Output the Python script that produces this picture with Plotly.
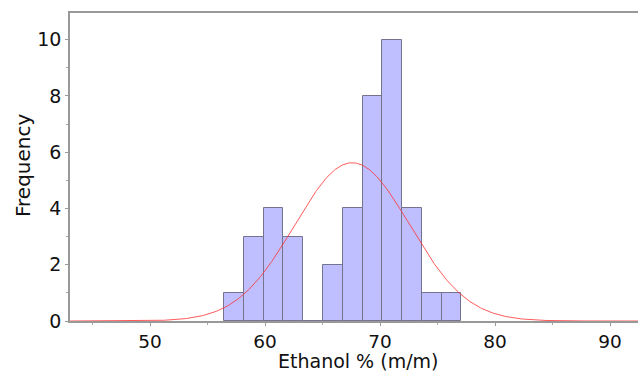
import numpy as np
import plotly.graph_objects as go

# Histogram data
bin_edges = [56.44, 58.16, 59.88, 61.60, 63.32, 65.04, 66.76, 68.48,
             70.20, 71.92, 73.64, 75.36, 77.08]
counts = [1, 3, 4, 3, 0, 2, 4, 8, 10, 4, 1, 1]

# Fitted normal curve parameters
fit_mean = 67.58
fit_sd = 5.0

x_ticks = [50, 60, 70, 80, 90]
y_ticks = [0, 2, 4, 6, 8, 10]
x_range = [43.04, 92.43]
y_range = [0, 10.95]

edges = np.array(bin_edges)
centers = (edges[:-1] + edges[1:]) / 2
widths = np.diff(edges)
n_total = sum(counts)
bw = float(np.mean(widths))

xs = np.linspace(x_range[0], x_range[1], 600)
ys = n_total * bw / (fit_sd * np.sqrt(2 * np.pi)) * np.exp(-0.5 * ((xs - fit_mean) / fit_sd) ** 2)

fig = go.Figure()
fig.add_trace(go.Bar(
    x=centers, y=counts, width=widths,
    marker=dict(color="#bfbfff", line=dict(color="#74748e", width=1)),
    hoverinfo="x+y", showlegend=False,
))
fig.add_trace(go.Scatter(
    x=xs, y=ys, mode="lines",
    line=dict(color="rgba(255,50,50,0.8)", width=1),
    showlegend=False, hoverinfo="skip", cliponaxis=False,
))

font = "DejaVu Sans, Arial, sans-serif"
L, R, T, B = 70, 0, 13, 52
W, H = 638, 373
ph = H - T - B
pw = W - L - R

fig.update_layout(
    width=W, height=H,
    margin=dict(l=L, r=R, t=T, b=B, autoexpand=False),
    paper_bgcolor="white", plot_bgcolor="white",
    bargap=0,
    font=dict(family=font, size=19, color="#111111"),
    xaxis=dict(
        range=x_range, tickvals=x_ticks, automargin=False,
        showgrid=False, zeroline=False,
        showline=True, linecolor="#999999", linewidth=1.5, mirror=True,
        ticks="outside", ticklen=3, tickcolor="#999999",
        minor=dict(dtick=5, tick0=45, ticks="outside", ticklen=2, tickcolor="#aaaaaa"),
        tickfont=dict(size=18.5),
    ),
    yaxis=dict(
        range=y_range, tickvals=y_ticks, automargin=False,
        showgrid=False, zeroline=False,
        showline=True, linecolor="#999999", linewidth=1.5,
        ticks="outside", ticklen=3, tickcolor="#999999",
        minor=dict(dtick=1, ticks="outside", ticklen=2, tickcolor="#aaaaaa"),
        tickfont=dict(size=19),
    ),
    annotations=[
        dict(text="Ethanol % (m/m)", xref="paper", yref="paper",
             x=(358 - L) / pw, y=-(361 - (T + ph)) / ph,
             xanchor="center", yanchor="middle", showarrow=False,
             font=dict(size=19, family=font)),
        dict(text="Frequency", xref="paper", yref="paper",
             x=(23 - L) / pw, y=(T + ph - 166) / ph,
             xanchor="center", yanchor="middle", textangle=-90, showarrow=False,
             font=dict(size=20, family=font)),
    ],
)

fig.write_html("out.html", config={"displayModeBar": False},
               post_script="document.body.style.margin='0px';document.body.style.overflow='hidden';")
